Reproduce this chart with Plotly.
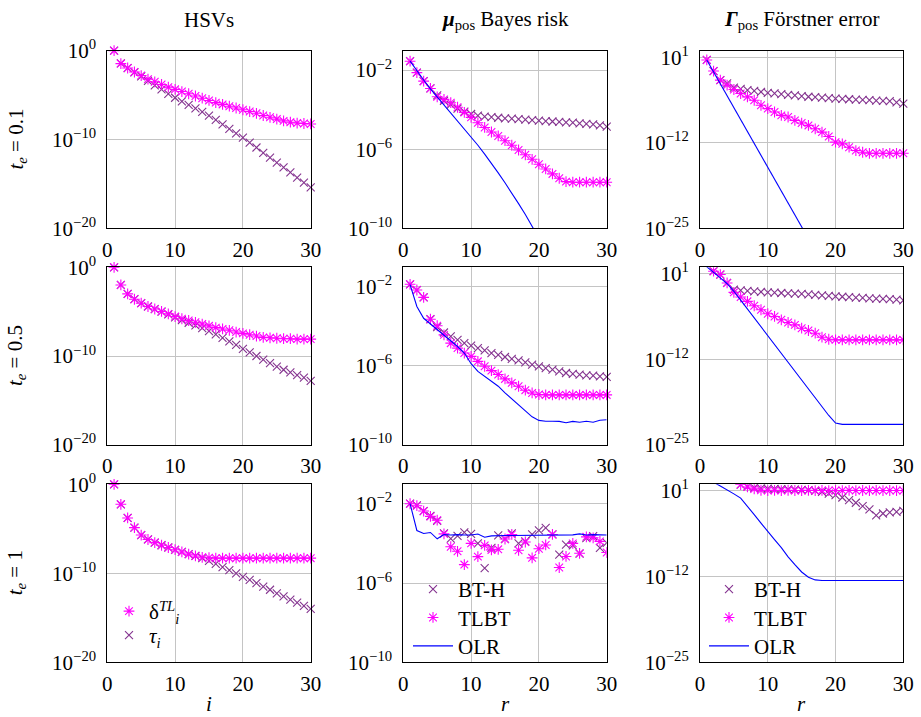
import plotly.graph_objects as go
import numpy as np

W, H = 921, 717

r = list(range(1, 31))
x_ticks = [0, 10, 20, 30]

# ---- HSVs (log10 values) ----
hsv_tau_01 = [0, -1.43, -1.95, -2.45, -2.9, -3.4, -3.9, -4.35, -4.85, -5.3, -5.7, -6.1, -6.5, -6.9, -7.3,
              -7.8, -8.3, -8.8, -9.3, -9.8, -10.35, -10.9, -11.5, -12.05, -12.6, -13.15, -13.7, -14.3, -14.85, -15.4]
hsv_delta_01 = [0, -1.45, -1.95, -2.4, -2.8, -3.2, -3.5, -3.8, -4.1, -4.35, -4.6, -4.85, -5.1, -5.35, -5.6,
                -5.85, -6.05, -6.25, -6.45, -6.65, -6.85, -7.05, -7.3, -7.5, -7.7, -7.9, -8.05, -8.15, -8.2, -8.25]
hsv_tau_05 = [0, -1.99, -3.0, -3.6, -4.05, -4.42, -4.72, -5.0, -5.3, -5.65, -5.95, -6.25, -6.55, -6.85, -7.2,
              -7.55, -7.95, -8.35, -8.75, -9.2, -9.6, -10.0, -10.4, -10.8, -11.2, -11.55, -11.85, -12.15, -12.45, -12.8]
hsv_delta_05 = [0, -1.99, -3.0, -3.6, -4.05, -4.42, -4.7, -4.98, -5.25, -5.55, -5.8, -6.0, -6.2, -6.4, -6.6,
                -6.8, -6.95, -7.1, -7.3, -7.45, -7.6, -7.75, -7.9, -7.95, -8.0, -8.05, -8.05, -8.1, -8.1, -8.1]
hsv_tau_1 = [0, -2.25, -3.78, -4.87, -5.7, -6.2, -6.55, -6.85, -7.1, -7.38, -7.6, -7.85, -8.05, -8.3, -8.6,
             -8.95, -9.3, -9.65, -10.0, -10.4, -10.75, -11.1, -11.5, -11.85, -12.25, -12.6, -12.95, -13.3, -13.65, -14.0]
hsv_delta_1 = [0, -2.25, -3.78, -4.87, -5.7, -6.2, -6.55, -6.85, -7.1, -7.35, -7.6, -7.85, -8.05, -8.2, -8.25,
               -8.3, -8.3, -8.3, -8.3, -8.3, -8.3, -8.3, -8.3, -8.3, -8.3, -8.3, -8.3, -8.3, -8.3, -8.3]

# ---- mu_pos Bayes risk (log10) ----
bayes_bth_01 = [-1.55, -2.13, -2.56, -2.93, -3.28, -3.55, -3.75, -3.95, -4.1, -4.22, -4.3, -4.35, -4.38, -4.41, -4.44,
                -4.46, -4.48, -4.5, -4.53, -4.56, -4.58, -4.6, -4.62, -4.64, -4.66, -4.69, -4.72, -4.75, -4.8, -4.86]
bayes_tlbt_01 = [-1.55, -2.13, -2.56, -2.93, -3.35, -3.48, -3.65, -3.88, -4.14, -4.39, -4.66, -4.9, -5.13, -5.33, -5.57,
                 -5.8, -6.04, -6.28, -6.51, -6.76, -7.0, -7.25, -7.47, -7.64, -7.67, -7.67, -7.67, -7.67, -7.67, -7.67]
bayes_olr_01 = [-1.55, -2.05, -2.5, -2.95, -3.35, -3.75, -4.15, -4.55, -4.95, -5.4, -5.8, -6.25, -6.7, -7.2, -7.7,
                -8.2, -8.75, -9.3, -9.9, -10.5, -11.1]
bayes_bth_05 = [-1.88, -2.17, -2.54, -3.65, -4.05, -4.32, -4.52, -4.69, -4.86, -4.99, -5.11, -5.23, -5.36, -5.45, -5.56,
                -5.66, -5.73, -5.83, -5.95, -6.03, -6.12, -6.2, -6.29, -6.37, -6.42, -6.45, -6.49, -6.5, -6.54, -6.57]
bayes_tlbt_05 = [-1.88, -2.17, -2.54, -3.65, -3.98, -4.44, -4.86, -5.11, -5.36, -5.53, -5.78, -6.03, -6.25, -6.45, -6.67,
                 -6.87, -7.04, -7.24, -7.38, -7.46, -7.48, -7.48, -7.48, -7.48, -7.48, -7.48, -7.48, -7.48, -7.48, -7.48]
bayes_olr_05 = [-1.9, -3.0, -3.6, -3.88, -4.15, -4.44, -4.72, -5.03, -5.36, -5.9, -6.29, -6.54, -6.79, -7.04, -7.38,
                -7.68, -8.0, -8.3, -8.59, -8.77, -8.81, -8.81, -8.82, -8.89, -8.82, -8.86, -8.81, -8.86, -8.76, -8.74]
bayes_bth_1 = [-2.0, -2.08, -2.37, -2.62, -2.86, -3.5, -3.76, -3.62, -3.45, -3.52, -4.0, -5.25, -4.23, -3.6, -3.78,
               -3.5, -4.0, -3.9, -3.55, -3.34, -3.22, -3.55, -4.57, -4.06, -4.1, -4.52, -3.73, -3.64, -4.23, -3.97]
bayes_tlbt_1 = [-2.0, -2.1, -2.37, -2.64, -2.83, -3.52, -4.17, -4.4, -5.07, -4.0, -4.67, -4.1, -4.33, -4.3, -3.78,
                -3.55, -4.35, -3.93, -4.73, -4.27, -4.08, -3.55, -5.22, -4.66, -4.0, -4.5, -3.67, -3.72, -3.9, -4.46]
bayes_olr_1 = [-2.0, -3.35, -3.5, -3.45, -3.77, -3.55, -3.58, -3.56, -3.58, -3.58, -3.53, -3.69, -3.62, -3.6, -3.6,
               -3.6, -3.6, -3.6, -3.59, -3.59, -3.58, -3.58, -3.59, -3.58, -3.57, -3.52, -3.58, -3.56, -3.58, -3.58]

# ---- Gamma_pos Foerstner error (log10) ----
forst_bth_01 = [0.59, -1.09, -2.47, -2.98, -3.6, -3.8, -4.0, -4.1, -4.26, -4.41, -4.5, -4.6, -4.7, -4.8, -4.92,
                -5.0, -5.07, -5.14, -5.21, -5.28, -5.33, -5.38, -5.43, -5.48, -5.53, -5.58, -5.63, -5.68, -5.85, -6.04]
forst_tlbt_01 = [0.59, -1.09, -2.47, -3.23, -3.9, -4.51, -5.02, -5.53, -6.3, -6.81, -7.32, -7.83, -8.08, -8.59, -9.0,
                 -9.36, -9.87, -10.38, -11.04, -11.9, -12.16, -12.67, -13.18, -13.44, -13.6, -13.6, -13.6, -13.6, -13.6, -13.6]
forst_olr_01 = [0.6, -1.2, -3.0, -4.85, -6.65, -8.5, -10.3, -12.1, -13.9, -15.7, -17.5, -19.35, -21.15, -23.0, -24.8,
                -26.6, -28.4]
forst_bth_05 = [None, 1.41, 0.9, -0.38, -1.4, -1.5, -1.6, -1.67, -1.74, -1.81, -1.86, -1.91, -1.96, -2.01, -2.06,
                -2.13, -2.2, -2.27, -2.34, -2.42, -2.48, -2.54, -2.6, -2.66, -2.72, -2.76, -2.8, -2.83, -2.93, -3.03]
forst_tlbt_05 = [None, 1.41, 0.9, -0.38, -1.81, -2.52, -3.18, -3.85, -4.46, -5.07, -5.48, -5.99, -6.4, -6.76, -7.27,
                 -7.62, -8.03, -8.64, -8.95, -9.05, -9.05, -9.05, -9.05, -9.05, -9.05, -9.05, -9.05, -9.05, -9.05, -9.05]
forst_olr_05 = [2.07, 1.3, 0.4, -0.5, -1.65, -3.0, -4.35, -5.7, -7.05, -8.4, -9.75, -11.1, -12.45, -13.8, -15.15,
                -16.5, -17.85, -19.2, -20.55, -21.7, -21.9, -21.9, -21.9, -21.9, -21.9, -21.9, -21.9, -21.9, -21.9, -21.9]
forst_bth_1 = [None, None, None, None, None, 1.96, 1.7, 1.5, 1.4, 1.35, 1.3, 1.27, 1.24, 1.2, 1.15,
               1.1, 1.0, 0.85, 0.6, 0.35, 0.0, -0.4, -0.8, -1.3, -1.8, -2.7, -2.43, -2.27, -2.17, -2.02]
forst_tlbt_1 = [None, None, None, None, None, 1.96, 1.6, 1.3, 1.1, 1.05, 1.08, 1.05, 1.1, 1.06, 1.05,
                1.08, 1.05, 1.07, 1.05, 1.06, 1.05, 1.08, 1.05, 1.06, 1.05, 1.07, 1.05, 1.06, 1.05, 1.05]
forst_olr_1 = [3.0, 2.3, 1.75, 1.2, 0.55, -0.1, -1.3, -2.6, -3.9, -5.2, -6.4, -7.6, -9.0, -10.2, -11.3,
               -12.1, -12.5, -12.6, -12.6, -12.6, -12.6, -12.6, -12.6, -12.6, -12.6, -12.6, -12.6, -12.6, -12.6, -12.6]

col_titles = ["HSVs", "<b><i>μ</i></b><sub>pos</sub> Bayes risk", "<b><i>Γ</i></b><sub>pos</sub> Förstner error"]
row_titles = ["<i>t</i><sub><i>e</i></sub> = 0.1", "<i>t</i><sub><i>e</i></sub> = 0.5", "<i>t</i><sub><i>e</i></sub> = 1"]
col_yticks = [[0, -10, -20], [-2, -6, -10], [1, -12, -25]]
col_yrange = [[-20, 0], [-10, -1.02], [-25, 2.0]]
col_xlabel = ["<i>i</i>", "<i>r</i>", "<i>r</i>"]

PURPLE = "#84338F"
MAGENTA = "#FF00FF"
BLUE = "#0000FF"
FONT = "Liberation Serif"
FS = 21

# pixel layout of plot frames
col_px = [(107.3, 310.7), (403.3, 606.7), (700.0, 903.3)]
row_px = [(50.7, 228.3), (267.3, 444.7), (484.3, 662.3)]


def pxx(p):
    return p / W


def pxy(p):
    return 1 - p / H


def tenpow(v):
    return [None if a is None else 10.0 ** a for a in v]


fig = go.Figure()

data = {
    (0, 0): (hsv_delta_01, hsv_tau_01, None),
    (1, 0): (hsv_delta_05, hsv_tau_05, None),
    (2, 0): (hsv_delta_1, hsv_tau_1, None),
    (0, 1): (bayes_tlbt_01, bayes_bth_01, bayes_olr_01),
    (1, 1): (bayes_tlbt_05, bayes_bth_05, bayes_olr_05),
    (2, 1): (bayes_tlbt_1, bayes_bth_1, bayes_olr_1),
    (0, 2): (forst_tlbt_01, forst_bth_01, forst_olr_01),
    (1, 2): (forst_tlbt_05, forst_bth_05, forst_olr_05),
    (2, 2): (forst_tlbt_1, forst_bth_1, forst_olr_1),
}

clip_panels = {(1, 2), (2, 2), (2, 1)}

# one legend box per entry (legend for BT-H/tau, TLBT/delta, OLR) per column
legend_ids = {0: ("legend4", "legend", None), 1: ("legend2", "legend5", "legend6"), 2: ("legend3", "legend7", "legend8")}

for (ri, ci), (tl, bt, olr) in data.items():
    idx = ri * 3 + ci + 1
    xa = "x" if idx == 1 else f"x{idx}"
    ya = "y" if idx == 1 else f"y{idx}"
    clip = (ri, ci) in clip_panels
    leg_b, leg_t, leg_o = legend_ids[ci]
    if ci == 0:
        names = ["δ<sup><i>TL</i></sup><sub><i>i</i></sub>", "<i>τ</i><sub><i>i</i></sub>"]
    else:
        names = ["TLBT", "BT-H"]
    show = ri == 2
    fig.add_trace(go.Scatter(
        x=r, y=tenpow(bt), mode="markers", name=names[1], xaxis=xa, yaxis=ya,
        marker=dict(symbol="x-thin-open", size=8, color=PURPLE, line=dict(color=PURPLE, width=1.1)),
        cliponaxis=clip, showlegend=show, legend=leg_b,
    ))
    fig.add_trace(go.Scatter(
        x=r, y=tenpow(tl), mode="markers", name=names[0], xaxis=xa, yaxis=ya,
        marker=dict(symbol="asterisk-open", size=9, color=MAGENTA, line=dict(color=MAGENTA, width=1.1)),
        cliponaxis=clip, showlegend=show, legend=leg_t,
    ))
    if olr is not None:
        fig.add_trace(go.Scatter(
            x=r[:len(olr)], y=tenpow(olr), mode="lines", name="OLR", xaxis=xa, yaxis=ya,
            line=dict(color=BLUE, width=1.1), cliponaxis=True, showlegend=show, legend=leg_o,
        ))

layout = dict(
    template="none",
    width=W, height=H, margin=dict(l=0, r=0, t=0, b=0, pad=0, autoexpand=False),
    paper_bgcolor="white", plot_bgcolor="white",
    font=dict(family=FONT, size=FS, color="black"),
    annotations=[],
)

for ri in range(3):
    for ci in range(3):
        idx = ri * 3 + ci + 1
        sfx = "" if idx == 1 else str(idx)
        x0, x1 = col_px[ci]
        y0, y1 = row_px[ri]
        layout[f"xaxis{sfx}"] = dict(
            domain=[pxx(x0), pxx(x1)], range=[0, 30], anchor=f"y{sfx}",
            tickvals=x_ticks, ticktext=[str(t) for t in x_ticks],
            showgrid=True, gridcolor="#c4c4c4", gridwidth=1,
            showline=True, linecolor="black", linewidth=1, mirror=True,
            ticks="", zeroline=False, tickfont=dict(size=FS, family=FONT),
            automargin=False, ticklabelstandoff=2,
        )
        layout[f"yaxis{sfx}"] = dict(
            domain=[pxy(y1), pxy(y0)], type="log", range=col_yrange[ci], anchor=f"x{sfx}",
            tickvals=[10.0 ** t for t in col_yticks[ci]],
            ticktext=[f"10<sup>{str(t).replace('-', '−')}</sup>" for t in col_yticks[ci]],
            showgrid=True, gridcolor="#c4c4c4", gridwidth=1,
            showline=True, linecolor="black", linewidth=1, mirror=True,
            ticks="", zeroline=False, tickfont=dict(size=FS, family=FONT),
            ticklabelstandoff=6, automargin=False,
        )

ann = layout["annotations"]
for ci in range(3):
    cx = (col_px[ci][0] + col_px[ci][1]) / 2
    ann.append(dict(text=col_titles[ci], x=pxx(cx), y=pxy(20), xref="paper", yref="paper",
                    showarrow=False, xanchor="center", yanchor="middle", font=dict(size=FS, family=FONT)))
    ann.append(dict(text=col_xlabel[ci], x=pxx(cx), y=pxy(704), xref="paper", yref="paper",
                    showarrow=False, xanchor="center", yanchor="middle", font=dict(size=FS, family=FONT)))
for ri in range(3):
    cy = (row_px[ri][0] + row_px[ri][1]) / 2
    ann.append(dict(text=row_titles[ri], x=pxx(16), y=pxy(cy), xref="paper", yref="paper",
                    showarrow=False, xanchor="center", yanchor="middle", textangle=-90,
                    font=dict(size=FS, family=FONT)))

leg_common = dict(bgcolor="rgba(0,0,0,0)", borderwidth=0, font=dict(size=FS, family=FONT),
                  xanchor="left", yanchor="top")
layout["legend"] = dict(x=pxx(109), y=pxy(591), itemwidth=30, **leg_common)
layout["legend4"] = dict(x=pxx(109), y=pxy(615), itemwidth=30, **leg_common)
for cx0, (lb, lt, lo) in ((408, legend_ids[1]), (704, legend_ids[2])):
    layout[lb] = dict(x=pxx(cx0), y=pxy(569), itemwidth=40, **leg_common)
    layout[lt] = dict(x=pxx(cx0), y=pxy(597.3), itemwidth=40, **leg_common)
    layout[lo] = dict(x=pxx(cx0), y=pxy(625.7), itemwidth=40, **leg_common)

fig.update_layout(**layout)
fig.write_html("out.html", config={"displayModeBar": False},
               post_script="document.body.style.margin='0';document.body.style.padding='0';")
